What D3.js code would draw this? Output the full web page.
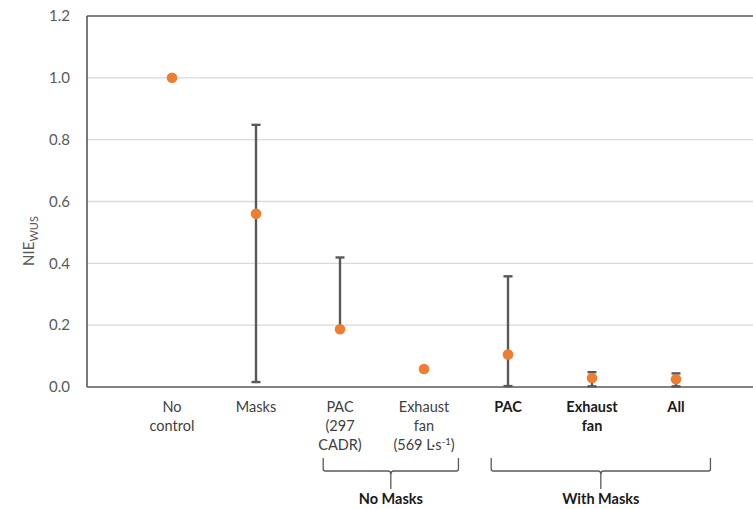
<!DOCTYPE html>
<html>
<head>
<meta charset="utf-8">
<script src="https://cdn.jsdelivr.net/npm/d3@7"></script>
<style>
  html, body { margin: 0; padding: 0; background: #fff; }
  svg { display: block; }
  text { font-family: Lato, "Open Sans", sans-serif; }
</style>
</head>
<body>
<svg id="chart" width="753" height="509"></svg>
<script>
// ---- data ----
const categories = ["No control", "Masks", "PAC (297 CADR)", "Exhaust fan (569 L·s-1)", "PAC", "Exhaust fan", "All"];
const labelLines = [["No", "control"], ["Masks"], ["PAC", "(297", "CADR)"], ["Exhaust", "fan", "(569 L·s|-1|)"], ["PAC"], ["Exhaust", "fan"], ["All"]];
const boldLabel = [false, false, false, false, true, true, true];
const values = [1.0, 0.56, 0.187, 0.058, 0.105, 0.029, 0.025];
const errLow = [null, 0.016, null, null, 0.003, 0.002, 0.002];
const errHigh = [null, 0.848, 0.419, null, 0.358, 0.048, 0.044];
const yTicks = [0.0, 0.2, 0.4, 0.6, 0.8, 1.0, 1.2];
const groups = ["No Masks", "With Masks"];
const groupStart = [2, 4];
const groupEnd = [3, 6];

// ---- layout ----
const W = 753, H = 509;
const mLeft = 87, mTop = 16, mBottom = 387;
const svg = d3.select("#chart");

const y = d3.scaleLinear().domain([0, 1.2]).range([mBottom, mTop]);
const x = d3.scalePoint().domain(categories).range([mLeft + 85, mLeft + 85 + 6 * 84]);
const xi = d3.scaleLinear().domain([0, 6]).range([mLeft + 85, mLeft + 85 + 6 * 84]);

const axisColor = "#595959";

// gridlines
svg.append("g").selectAll("line").data(yTicks.filter(t => t > 0 && t < 1.2)).join("line")
  .attr("x1", mLeft).attr("x2", W)
  .attr("y1", d => y(d)).attr("y2", d => y(d))
  .attr("stroke", "#d9d9d9").attr("stroke-width", 1.3);

// plot border (top, left), x axis (bottom)
svg.append("line").attr("x1", mLeft).attr("x2", W).attr("y1", y(1.2)).attr("y2", y(1.2))
  .attr("stroke", axisColor).attr("stroke-width", 1.6);
svg.append("line").attr("x1", mLeft).attr("x2", mLeft).attr("y1", y(1.2)).attr("y2", y(0))
  .attr("stroke", axisColor).attr("stroke-width", 1.6);
svg.append("line").attr("x1", mLeft).attr("x2", W).attr("y1", y(0)).attr("y2", y(0))
  .attr("stroke", axisColor).attr("stroke-width", 1.6);

// y tick labels
svg.append("g").selectAll("text").data(yTicks).join("text")
  .attr("x", 70).attr("y", d => y(d)).attr("dy", "0.35em")
  .attr("text-anchor", "end").attr("fill", axisColor).attr("font-size", 15)
  .text(d => d3.format(".1f")(d));

// y axis label
const yl = svg.append("text")
  .attr("transform", "translate(34,241) rotate(-90)")
  .attr("text-anchor", "middle").attr("fill", axisColor).attr("font-size", 15);
yl.append("tspan").text("NIE");
yl.append("tspan").attr("font-size", 11).attr("dy", 4).text("WUS");

// error bars
const eb = svg.append("g");
categories.forEach((c, i) => {
  if (errLow[i] == null && errHigh[i] == null) return;
  const lo = errLow[i] == null ? values[i] : errLow[i];
  const hi = errHigh[i] == null ? values[i] : errHigh[i];
  eb.append("line").attr("x1", x(c)).attr("x2", x(c)).attr("y1", y(lo)).attr("y2", y(hi))
    .attr("stroke", axisColor).attr("stroke-width", 2.4);
  if (errHigh[i] != null)
    eb.append("line").attr("x1", x(c) - 4.5).attr("x2", x(c) + 4.5).attr("y1", y(hi)).attr("y2", y(hi))
      .attr("stroke", axisColor).attr("stroke-width", 2.4);
  if (errLow[i] != null)
    eb.append("line").attr("x1", x(c) - 4.5).attr("x2", x(c) + 4.5).attr("y1", y(lo)).attr("y2", y(lo))
      .attr("stroke", axisColor).attr("stroke-width", 2.4);
});

// points
svg.append("g").selectAll("circle").data(values).join("circle")
  .attr("cx", (d, i) => x(categories[i])).attr("cy", d => y(d))
  .attr("r", 5.3).attr("fill", "#ED7D31");

// category labels
const cl = svg.append("g");
categories.forEach((c, i) => {
  const t = cl.append("text").attr("text-anchor", "middle")
    .attr("font-size", 14.5).attr("fill", boldLabel[i] ? "#1a1a1a" : "#404040")
    .attr("font-weight", boldLabel[i] ? "bold" : "normal");
  labelLines[i].forEach((ln, k) => {
    const parts = ln.split("|");
    t.append("tspan").attr("x", x(c)).attr("y", 412 + k * 19).text(parts[0]);
    if (parts.length > 1) {
      t.append("tspan").attr("font-size", 9.5).attr("dy", -5).text(parts[1]);
      t.append("tspan").attr("dy", 5).text(parts[2]);
    }
  });
});

// group braces
const br = svg.append("g");
groups.forEach((g, i) => {
  const x0 = xi(groupStart[i] - 0.2), x1 = xi(groupEnd[i] + 0.41);
  const xm = (x0 + x1) / 2;
  const yTop = 458, yMid = 471, yBot = 489;
  const p = d3.path();
  p.moveTo(x0, yTop); p.lineTo(x0, yMid - 2); p.quadraticCurveTo(x0, yMid, x0 + 2, yMid);
  p.lineTo(xm - 3, yMid); p.quadraticCurveTo(xm, yMid, xm, yMid + 3);
  p.quadraticCurveTo(xm, yMid, xm + 3, yMid);
  p.lineTo(x1 - 2, yMid); p.quadraticCurveTo(x1, yMid, x1, yMid - 2); p.lineTo(x1, yTop);
  br.append("path").attr("d", p.toString()).attr("fill", "none")
    .attr("stroke", axisColor).attr("stroke-width", 1.3);
  br.append("line").attr("x1", xm).attr("x2", xm).attr("y1", yMid + 2).attr("y2", yBot)
    .attr("stroke", axisColor).attr("stroke-width", 1.3);
  br.append("text").attr("x", xm).attr("y", 504).attr("text-anchor", "middle")
    .attr("font-size", 14.5).attr("font-weight", "bold").attr("fill", "#1a1a1a").text(g);
});
</script>
</body>
</html>
